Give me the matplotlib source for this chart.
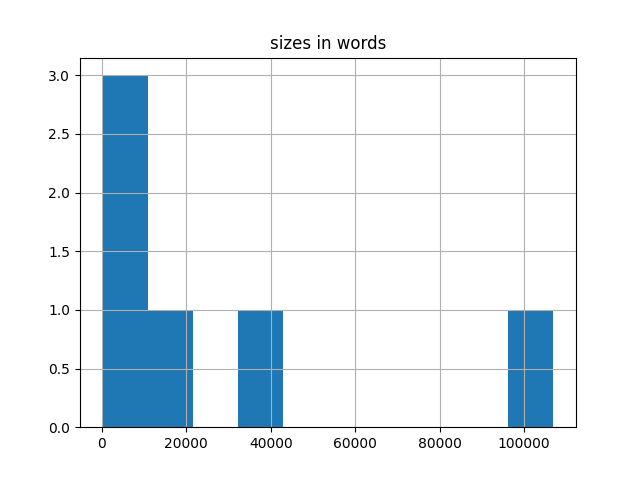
import matplotlib
matplotlib.use("Agg")
import matplotlib.pyplot as plt
import pandas as pd

# word counts per document (estimated from the histogram)
names = ["a", "b", "c", "d", "e", "f"]
sizes = [150, 2500, 7000, 14000, 37000, 107000]

df = pd.DataFrame({"sizes in words": sizes}, index=names)

fig, ax = plt.subplots(figsize=(6.4, 4.8), dpi=100)
df.hist(column="sizes in words", ax=ax)

fig.savefig("out.png")
